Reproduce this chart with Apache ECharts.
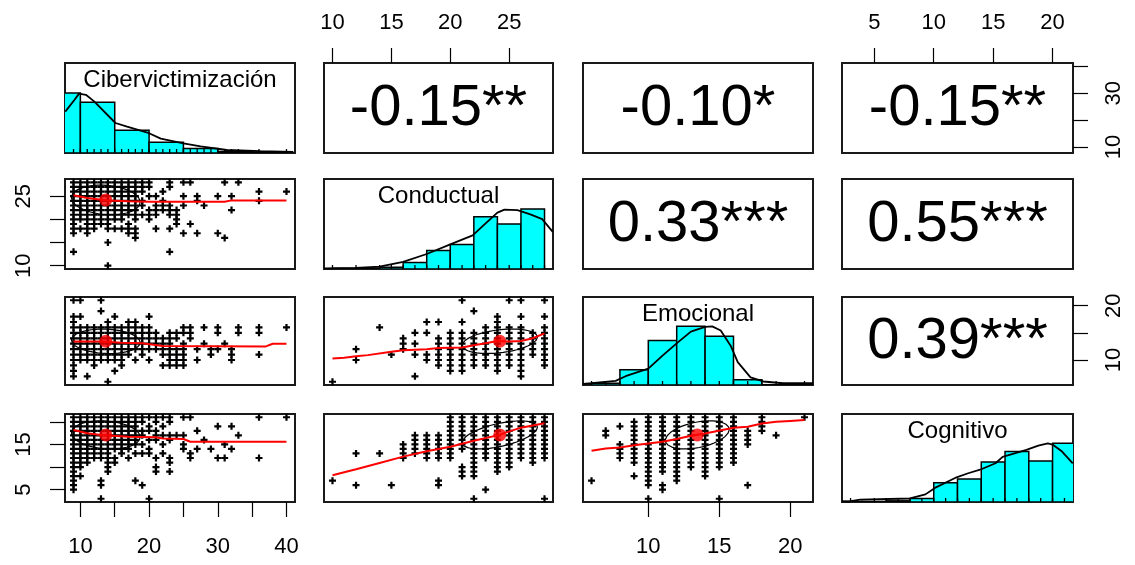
<!DOCTYPE html>
<html><head><meta charset="utf-8">
<script src="https://cdn.jsdelivr.net/npm/echarts@6/dist/echarts.min.js"></script>
<style>html,body{margin:0;padding:0;background:#fff}#c{width:1135px;height:565px}</style>
</head><body><div id="c"></div>
<script>
// ---------- data ----------
const varNames = ['Cibervictimización','Conductual','Emocional','Cognitivo'];
const varMin = [9,10,6,3];
const varMax = [40,28,21,21];
const varMean = [13.7,24.2,13.45,17.1];
const varSd = [5.0,3.2,2.25,3.1];
const corrR = {'0-1':-0.15,'0-2':-0.10,'0-3':-0.15,'1-2':0.33,'1-3':0.55,'2-3':0.39};
const corrText = {'0-1':'-0.15**','0-2':'-0.10*','0-3':'-0.15**','1-2':'0.33***','1-3':'0.55***','2-3':'0.39***'};

// tick values / labels
const ticksBottomCib = [10,15,20,25,30,35,40];
const labelsBottomCib = [10,20,30,40];
const ticksBottomEmo = [10,15,20];
const labelsBottomEmo = [10,15,20];
const ticksTopCond = [10,15,20,25];
const labelsTopCond = [10,15,20,25];
const ticksTopCog = [5,10,15,20];
const labelsTopCog = [5,10,15,20];
const ticksLeftCond = [10,15,20,25];
const labelsLeftCond = [10,25];
const ticksLeftCog = [5,10,15,20];
const labelsLeftCog = [5,15];
const ticksRightCib = [10,20,30,40];
const labelsRightCib = [10,30];
const ticksRightEmo = [10,15,20];
const labelsRightEmo = [10,20];

// histograms: [lo, hi, relative height]
const histCib = [[5,10,1.0],[10,15,0.845],[15,20,0.38],[20,25,0.18],[25,30,0.075],[30,35,0.025],[35,40,0.015]];
const histCond = [[10,12,0.01],[12,14,0.015],[14,16,0.03],[16,18,0.11],[18,20,0.31],[20,22,0.41],[22,24,0.87],[24,26,0.75],[26,28,1.0]];
const histEmo = [[6,8,0.03],[8,10,0.26],[10,12,0.76],[12,14,1.0],[14,16,0.83],[16,18,0.09],[18,20,0.005],[20,22,0.01]];
const histCog = [[2,4,0.01],[4,6,0.01],[6,8,0.02],[8,10,0.06],[10,12,0.33],[12,14,0.39],[14,16,0.68],[16,18,0.86],[18,20,0.70],[20,22,1.0]];

// density curves (value, relative height)
const densCib = [[7.8,0.69],[9.1,0.88],[9.8,0.99],[10.8,0.97],[12,0.86],[15.1,0.5],[16.8,0.44],[20,0.33],[21.7,0.24],[25,0.16],[27.5,0.11],[31.3,0.05],[36.2,0.03],[41,0.02]];
const densCond = [[9.3,0.01],[12,0.02],[14,0.04],[16,0.12],[18,0.25],[20,0.41],[21.9,0.56],[23,0.76],[24,0.94],[24.6,0.99],[25.7,0.98],[26.8,0.91],[27.8,0.83],[28.7,0.62]];
const densEmo = [[5.4,0.02],[6,0.03],[7.7,0.07],[8.4,0.15],[10,0.28],[11,0.5],[12.1,0.73],[13,0.91],[14,0.99],[14.5,1.0],[15.1,0.93],[15.8,0.67],[16.3,0.39],[17.2,0.13],[18.1,0.06],[19.5,0.03],[21.6,0.03]];
const densCog = [[2.3,0.01],[2.9,0.01],[3.8,0.04],[8,0.06],[9.3,0.13],[10.1,0.24],[11.8,0.41],[12.9,0.49],[13.9,0.55],[15.2,0.66],[15.8,0.77],[17.8,0.89],[18.8,0.96],[19.6,1.0],[20,0.98],[20.8,0.86],[21.7,0.66]];

// rug values
const rugCib = [9,10,11,12,13,14,15,16,17,18,19,20,21,22,23,24,25,26,27,28,29,30,31,32,33,36,40];
const rugCond = [10,12,14,15,16,17,18,19,20,21,22,23,24,25,26,27,28];
const rugEmo = [6,7,8,9,10,11,12,13,14,15,16,17,18,19,21];
const rugCog = [3,5,6,7,8,9,10,11,12,13,14,15,16,17,18,19,20,21];

// scatter points grouped by x value: [x, [y values]]
const ptsCibCond = [[9,[28,27,26,25,24,23,22,21,20,19,18,17,13]],[10,[28,27,26,25,24,23,22,21,20,18]],[11,[28,27,26,25,24,23,22,21,20,19,18,17]],[12,[28,27,26,25,24,23,22,21,20,19,18]],[13,[28,27,26,25,24,23,22,21,20,19]],[14,[28,27,26,25,24,23,22,21,20,19,18,15,10]],[15,[28,27,26,25,24,23,22,21,20,18]],[16,[28,27,26,25,24,23,22,21,20,18]],[17,[28,27,26,25,24,23,22,21,19,18,17]],[18,[28,27,26,25,24,23,22,21,20,18,17,16]],[19,[28,27,26,24,23,21]],[20,[28,27,25,22,21,20]],[21,[25,23,22,21,18]],[22,[26,24,23,22]],[23,[28,27,23,22,21,18,13]],[24,[22,21,20,19]],[25,[28,25,23,17]],[26,[28,19]],[27,[25,24,17]],[28,[23]],[30,[25,17]],[31,[28,16]],[32,[25,22]],[33,[28]],[36,[26,24]],[40,[26]]];
const ptsCibEmo = [[9,[21,18,17,16,15,14,13,12,11,10,9,8,7]],[10,[21,18,16,15,14,13,12,11,10]],[11,[16,15,14,13,12,11,10,7]],[12,[16,15,14,13,12,11,10,9]],[13,[21,19,16,15,14,13,12,11,10]],[14,[17,16,15,14,13,12,11,10,6]],[15,[18,16,15,14,13,12,11,10,8]],[16,[16,15,14,13,12,11,10,9]],[17,[17,16,15,14,13,12,11]],[18,[17,16,15,14,13,12,10]],[19,[16,15,14,13,12,11]],[20,[18,16,15,14,13,12,10]],[21,[15,14,13,12]],[22,[14,13,12,11,9]],[23,[15,14,13,12,11,10,9]],[24,[15,14,12,11,10,9]],[25,[16,15,13,12,11,10,9]],[26,[16,15,14]],[27,[12,10]],[28,[16,13]],[29,[12,11]],[30,[16,15,12]],[31,[13]],[32,[12,11,10]],[33,[16,15]],[36,[16,15,11]],[40,[16]]];
const ptsCibCog = [[9,[21,20,19,18,17,16,15,14,13,12,11,10,9,8,7,6,5]],[10,[21,20,19,18,17,16,15,14,13,12,11,10,8]],[11,[21,20,19,18,17,16,15,14,13,12,11]],[12,[21,20,19,18,17,16,15,14,13,12]],[13,[21,20,19,18,17,16,15,14,13,12,7,6,3]],[14,[21,20,19,18,17,16,15,14,13,12,11,10,9]],[15,[21,20,19,18,17,16,15,14,12,11]],[16,[21,20,19,18,17,16,15,14,13]],[17,[21,20,19,18,17,16,15,14,12]],[18,[21,20,19,18,17,16,15,13,7]],[19,[21,20,18,17,15,13,6]],[20,[21,19,18,16,14,13,3]],[21,[21,20,18,17,16,12,10,9]],[22,[21,19,17,15,13]],[23,[21,20,17,16,12,11,9]],[24,[17]],[25,[21,17,15,14]],[26,[21,13,12]],[27,[18,14]],[28,[16]],[29,[14]],[30,[19,12]],[31,[15,12]],[32,[19,14]],[33,[17]],[36,[21,12]],[40,[21]]];
const ptsCondEmo = [[10,[6]],[12,[12,10]],[14,[16]],[15,[11]],[16,[14,13,12]],[17,[15,13,11,7]],[18,[17,15,11,10]],[19,[17,14,13,12,11,10,9]],[20,[15,14,13,12,11,10,9,8]],[21,[21,17,15,14,13,12,11,10,9,8]],[22,[19,15,14,13,12,11,10,9]],[23,[16,15,14,13,12,11,10,9]],[24,[18,17,16,15,14,13,12,11,10,9,8]],[25,[21,16,15,14,13,12,11,10,9]],[26,[21,18,16,15,14,13,12,11,10,9,8,7]],[27,[15,14,13,12,11]],[28,[21,18,16,15,14,13,12,11,10,9]]];
const ptsCondCog = [[10,[7]],[12,[13,6]],[14,[13]],[15,[6]],[16,[15,14,13,12]],[17,[17,16,15,14,13]],[18,[17,16,15,14,13,12]],[19,[17,16,15,14,13,12,7,6]],[20,[21,20,19,18,17,16,15,14,13,12]],[21,[21,20,19,18,17,16,15,14,10,9,8]],[22,[21,20,19,18,17,16,15,14,13,12,11,10,9,8,3]],[23,[21,20,19,18,17,16,15,14,13,12,5]],[24,[21,20,19,18,17,16,15,14,13,12,11,10,9]],[25,[21,20,19,18,17,16,15,14,13,12,11,10]],[26,[21,20,19,18,17,16,15,14,13,12]],[27,[21,20,19,18,17,16,15,14,13,12,11]],[28,[21,20,19,18,17,16,15,14,13,12,3]]];
const ptsEmoCog = [[6,[7]],[7,[18,17]],[8,[19,15,14,13,12]],[9,[20,19,18,17,16,15,14,13,12,11,8]],[10,[21,20,19,18,17,16,15,14,13,12,11,10,9,8,7,6,3]],[11,[21,20,19,18,17,16,15,14,13,12,11,10,9,6,5]],[12,[21,20,19,18,17,16,15,14,13,12,11,10,9,8,7]],[13,[21,20,19,18,17,16,15,14,13,12,11,10]],[14,[21,20,19,18,17,16,15,14,13,12,11,10,9,8]],[15,[21,20,19,18,17,16,15,14,13,12,11,10,3]],[16,[21,20,19,18,17,16,15,14,13,12,11]],[17,[18,17,16,15,6]],[18,[21,20,19,18]],[19,[17]],[21,[21]]];

// lowess smooths
const lowCibCond = [[9,25.2],[11,24.6],[14,24.1],[17,23.9],[20,23.8],[31,23.8],[32,24.1],[40,24.1]];
const lowCibEmo = [[9,13.4],[13,13.4],[16,13.2],[19,13.1],[22,12.6],[37,12.5],[38,13.0],[40,13.0]];
const lowCibCog = [[9,18.2],[11,17.45],[13,17.1],[17,16.7],[21,16.6],[22,16.3],[25,16.2],[26,15.6],[40,15.6]];
const lowCondEmo = [[10,10.3],[11,10.4],[12,10.7],[13,10.9],[15,11.5],[16,11.8],[18,12.0],[19,12.2],[21,12.3],[22,12.7],[23,13.1],[24,13.5],[25,13.4],[26,13.5],[27,14.0],[28,14.9]];
const lowCondCog = [[10,8.2],[12,9.5],[14,10.9],[16,12.3],[18,13.5],[20,14.5],[22,15.8],[24,17.0],[26,18.7],[28,19.7]];
const lowEmoCog = [[6,13.6],[7,14.1],[8,14.3],[9,14.8],[11,15.6],[12,16.2],[13,16.9],[14,17.4],[16,18.7],[17,18.9],[18,19.6],[19,20.0],[20,20.2],[21,20.4]];

// ---------- layout ----------
const COLS = [[65,295],[324,553],[583,813],[842,1073]];
const ROWS = [[63,153],[179,269],[297,385],[414,502]];
const FONT = "'Liberation Sans', Arial, sans-serif";

function range(v){ const d=(varMax[v]-varMin[v])*0.04; return [varMin[v]-d, varMax[v]+d]; }
function expand(cols){ const out=[]; cols.forEach(([x,ys])=>ys.forEach(y=>out.push([x,y]))); return out; }

const hist = [histCib,histCond,histEmo,histCog];
const dens = [densCib,densCond,densEmo,densCog];
const rugs = [rugCib,rugCond,rugEmo,rugCog];
const pts = {'1-0':ptsCibCond,'2-0':ptsCibEmo,'3-0':ptsCibCog,'2-1':ptsCondEmo,'3-1':ptsCondCog,'3-2':ptsEmoCog};
const lows = {'1-0':lowCibCond,'2-0':lowCibEmo,'3-0':lowCibCog,'2-1':lowCondEmo,'3-1':lowCondCog,'3-2':lowEmoCog};

const grids=[], xAxes=[], yAxes=[], series=[], graphics=[];
const PLUS = 'path://M2.4,0H4.6V2.4H7V4.6H4.6V7H2.4V4.6H0V2.4H2.4Z';
const TICKLEN = 15, LABSIZE = 22;

function hiddenAxis(g,min,max){ return {gridIndex:g,type:'value',min,max,axisLine:{show:false},splitLine:{show:false},axisTick:{show:false},axisLabel:{show:false}}; }
function shownAxis(ax,pos,ticks,labels,rot,margin){
  ax.position=pos;
  ax.axisTick={show:true,inside:false,length:TICKLEN,customValues:ticks,lineStyle:{color:'#000',width:1.2}};
  ax.axisLabel={show:true,customValues:labels,fontSize:LABSIZE,fontFamily:FONT,color:'#000',margin:margin,rotate:rot||0};
  return ax;
}

for(let r=0;r<4;r++){
  for(let c=0;c<4;c++){
    const g=r*4+c;
    const L=COLS[c][0], T=ROWS[r][0], W=COLS[c][1]-COLS[c][0], H=ROWS[r][1]-ROWS[r][0];
    grids.push({left:L,top:T,width:W,height:H,show:true,borderColor:'#1a1a1a',borderWidth:2,backgroundColor:'transparent'});
    const xr=range(c);
    const yr = (r===c)?[0,1.5]:range(r);
    let xa=hiddenAxis(g,xr[0],xr[1]);
    let ya=hiddenAxis(g,yr[0],yr[1]);
    if(r===3&&c===0) shownAxis(xa,'bottom',ticksBottomCib,labelsBottomCib,0,34);
    if(r===3&&c===2) shownAxis(xa,'bottom',ticksBottomEmo,labelsBottomEmo,0,34);
    if(r===0&&c===1) shownAxis(xa,'top',ticksTopCond,labelsTopCond,0,29);
    if(r===0&&c===3) shownAxis(xa,'top',ticksTopCog,labelsTopCog,0,29);
    if(c===0&&r===1) shownAxis(ya,'left',ticksLeftCond,labelsLeftCond,90,30);
    if(c===0&&r===3) shownAxis(ya,'left',ticksLeftCog,labelsLeftCog,90,30);
    if(c===3&&r===0) shownAxis(ya,'right',ticksRightCib,labelsRightCib,90,30);
    if(c===3&&r===2) shownAxis(ya,'right',ticksRightEmo,labelsRightEmo,90,30);
    xAxes.push(xa); yAxes.push(ya);

    if(r===c){
      series.push({type:'custom',xAxisIndex:g,yAxisIndex:g,clip:true,silent:true,
        data:hist[c],encode:{x:[0,1],y:2},
        renderItem:(p,api)=>{const p0=api.coord([api.value(0),0]),p1=api.coord([api.value(1),api.value(2)]);
          return {type:'rect',shape:{x:p0[0],y:p1[1],width:p1[0]-p0[0],height:p0[1]-p1[1]},style:{fill:'#00FFFF',stroke:'#000',lineWidth:1.5}};}});
      series.push({type:'line',xAxisIndex:g,yAxisIndex:g,data:dens[c],showSymbol:false,symbol:'none',silent:true,clip:true,
        lineStyle:{color:'#000',width:1.8},z:3});
      series.push({type:'custom',xAxisIndex:g,yAxisIndex:g,silent:true,data:rugs[c].map(v=>[v,0]),encode:{x:0,y:1},z:4,
        renderItem:(p,api)=>{const q=api.coord([api.value(0),0]);
          return {type:'line',shape:{x1:q[0],y1:q[1],x2:q[0],y2:q[1]-4},style:{stroke:'#000',lineWidth:1.3}};}});
      graphics.push({type:'text',x:L+W/2,y:T+17,z:10,silent:true,
        style:{text:varNames[c],x:0,y:0,fill:'#000',font:"24px "+FONT,textAlign:'center',textVerticalAlign:'middle'}});
    } else if(r>c){
      const key=r+'-'+c;
      series.push({type:'scatter',xAxisIndex:g,yAxisIndex:g,silent:true,symbol:PLUS,symbolSize:7,
        itemStyle:{color:'#000',opacity:1},data:expand(pts[key]),z:2});
      const rr=corrR[c+'-'+r], a=Math.sqrt(1+rr), b=Math.sqrt(1-rr), th=Math.sign(rr)/Math.SQRT2;
      const ell=[];
      for(let i=0;i<=51;i++){const t=i*2*Math.PI/51;
        ell.push([varMean[c]+varSd[c]*(a*th*Math.cos(t)-b*th*Math.sin(t)), varMean[r]+varSd[r]*(a*th*Math.cos(t)+b*th*Math.sin(t))]);}
      series.push({type:'line',xAxisIndex:g,yAxisIndex:g,data:ell,showSymbol:false,symbol:'none',silent:true,
        lineStyle:{color:'#000',width:1.2},z:3});
      series.push({type:'scatter',xAxisIndex:g,yAxisIndex:g,silent:true,symbol:'circle',symbolSize:13,
        itemStyle:{color:'#FF0000'},data:[[varMean[c],varMean[r]]],z:4});
      series.push({type:'line',xAxisIndex:g,yAxisIndex:g,data:lows[key],showSymbol:false,symbol:'none',silent:true,
        lineStyle:{color:'#FF0000',width:2},z:5});
    } else {
      const key=r+'-'+c;
      graphics.push({type:'text',x:L+W/2,y:T+H/2+1,z:10,silent:true,
        style:{text:corrText[key],x:0,y:0,fill:'#000',font:"58px "+FONT,textAlign:'center',textVerticalAlign:'middle'}});
    }
  }
}

const chart=echarts.init(document.getElementById('c'),null,{renderer:'canvas'});
chart.setOption({animation:false,backgroundColor:'#fff',grid:grids,xAxis:xAxes,yAxis:yAxes,series,graphic:{elements:graphics}});
</script></body></html>
